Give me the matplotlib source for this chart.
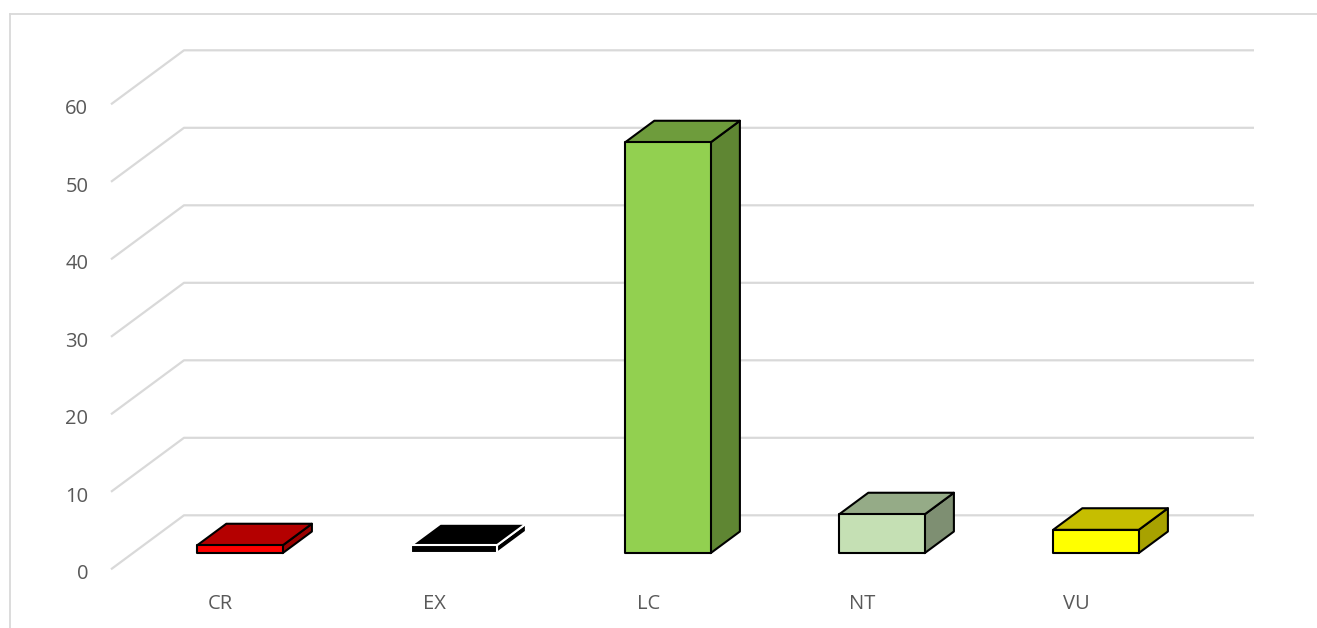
import matplotlib
matplotlib.use("Agg")
import matplotlib.pyplot as plt
from matplotlib.patches import Polygon

categories = ["CR", "EX", "LC", "NT", "VU"]
values = [1, 1, 53, 5, 3]
y_ticks = [0, 10, 20, 30, 40, 50, 60]

front_colors = ["#ff0000", "#000000", "#92d050", "#c5e0b4", "#ffff00"]
top_colors = ["#b40000", "#000000", "#6e9c3c", "#95ab87", "#c6be00"]
side_colors = ["#9a0000", "#000000", "#5f8633", "#7e8f72", "#a8a200"]
edge_colors = ["black", "white", "black", "black", "black"]

# pixel layout of the oblique projection
W, H = 1317, 628
X0_PX = 218.0          # front-floor centre of first category
CAT_PX = 214.0         # spacing between categories
Y0_PX = 569.3          # front-floor level of value 0
UNIT_PX = 7.75         # pixels per unit of value
DEPTH_DX = 73.0 / CAT_PX   # full floor depth, in category units
DEPTH_DY = 54.0 / UNIT_PX  # full floor depth, in value units
BAR_W = 0.40
D_FRONT, D_BACK = 0.3, 0.7
FONT = dict(fontsize=14.5, color="#595959", family="Open Sans")

fig = plt.figure(figsize=(W / 100, H / 100), dpi=100)
ax = fig.add_axes([0, 0, 1, 1])
ax.set_xlim(-X0_PX / CAT_PX, (W - X0_PX) / CAT_PX)
ax.set_ylim((Y0_PX - H) / UNIT_PX, Y0_PX / UNIT_PX)
ax.axis("off")

# chart area border (top and left edges only show)
border_kw = dict(color="#d9d9d9", linewidth=1.3, transform=fig.transFigure)
fig.lines.append(plt.Line2D([9.5 / W, 9.5 / W], [0, 1 - 13.5 / H], **border_kw))
fig.lines.append(plt.Line2D([9.5 / W, 1], [1 - 13.5 / H, 1 - 13.5 / H], **border_kw))


def proj(x, y, d):
    return (x + d * DEPTH_DX, y + d * DEPTH_DY)


x_left = -0.5
x_right = len(categories) - 0.5
grid_kw = dict(color="#d9d9d9", linewidth=1.6, zorder=1, solid_capstyle="butt")
for v in y_ticks:
    p0 = proj(x_left, v, 0)
    p1 = proj(x_left, v, 1)
    p2 = proj(x_right, v, 1)
    ax.plot([p0[0], p1[0], p2[0]], [p0[1], p1[1], p2[1]], **grid_kw)
    ax.annotate(str(v), xy=p0, xytext=(-16.3, -7.0), textcoords="offset points",
                ha="right", va="baseline", **FONT)

for i, (cat, v) in enumerate(zip(categories, values)):
    xl, xr = i - BAR_W / 2, i + BAR_W / 2
    kw = dict(edgecolor=edge_colors[i], linewidth=1.5, joinstyle="round", zorder=3)
    side = [proj(xr, 0, D_FRONT), proj(xr, 0, D_BACK),
            proj(xr, v, D_BACK), proj(xr, v, D_FRONT)]
    top = [proj(xl, v, D_FRONT), proj(xl, v, D_BACK),
           proj(xr, v, D_BACK), proj(xr, v, D_FRONT)]
    front = [proj(xl, 0, D_FRONT), proj(xr, 0, D_FRONT),
             proj(xr, v, D_FRONT), proj(xl, v, D_FRONT)]
    ax.add_patch(Polygon(side, closed=True, facecolor=side_colors[i], **kw))
    ax.add_patch(Polygon(top, closed=True, facecolor=top_colors[i], **kw))
    ax.add_patch(Polygon(front, closed=True, facecolor=front_colors[i], **kw))
    ax.text(i + 0.01, -39.7 / UNIT_PX, cat, ha="center", va="baseline", **FONT)

fig.savefig("out.png", dpi=100)
